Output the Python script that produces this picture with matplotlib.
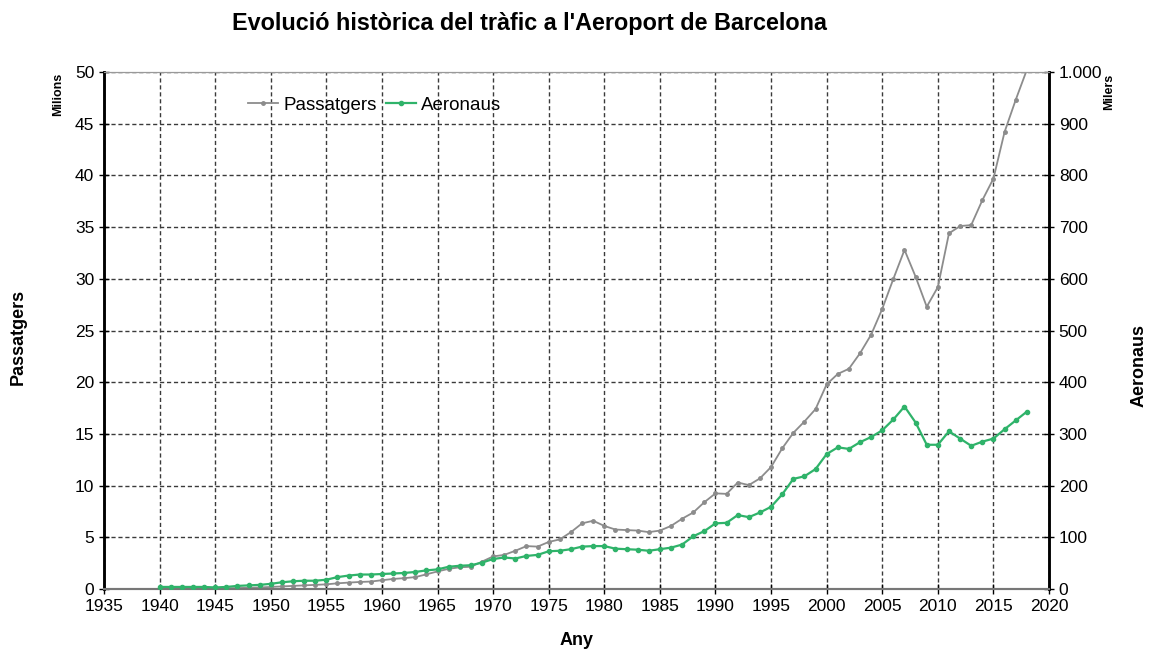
import matplotlib.pyplot as plt
import matplotlib.ticker as mticker
import numpy as np

plt.rcParams['font.family'] = ['Liberation Sans', 'DejaVu Sans']

# Dades llegides del gràfic
anys = list(range(1940, 2019))

# Passatgers (milions)
passatgers = [
    0.01, 0.01, 0.01, 0.01, 0.02, 0.03, 0.06, 0.09, 0.12, 0.15,
    0.20, 0.25, 0.30, 0.35, 0.40, 0.45, 0.55, 0.62, 0.68, 0.72,
    0.85, 0.97, 1.05, 1.15, 1.42, 1.70, 1.95, 2.10, 2.15, 2.65,
    3.15, 3.30, 3.70, 4.15, 4.10, 4.55, 4.80, 5.50, 6.35, 6.60,
    6.10, 5.75, 5.70, 5.65, 5.50, 5.65, 6.10, 6.80, 7.40, 8.40,
    9.25, 9.20, 10.3, 10.05, 10.7, 11.8, 13.6, 15.1, 16.2, 17.4,
    19.8, 20.8, 21.3, 22.8, 24.6, 27.1, 30.0, 32.8, 30.2, 27.3,
    29.2, 34.4, 35.1, 35.2, 37.6, 39.7, 44.2, 47.3, 50.2,
]

# Aeronaus (milers)
aeronaus = [
    4, 4, 4, 4, 4, 3, 4, 6, 7, 8,
    10, 13, 15, 16, 16, 18, 23, 26, 28, 28,
    29, 30, 31, 33, 36, 38, 43, 45, 46, 51,
    58, 61, 59, 64, 66, 73, 74, 77, 82, 83,
    83, 78, 77, 76, 74, 77, 80, 86, 102, 112,
    127, 128, 143, 139, 148, 159, 183, 213, 218, 232,
    261, 274, 271, 284, 294, 307, 328, 353, 322, 279,
    279, 305, 291, 277, 285, 291, 309, 326, 343,
]

fig = plt.figure(figsize=(11.49, 6.53), dpi=100)
ax = fig.add_axes([0.0905, 0.098, 0.8225, 0.7917])
ax2 = ax.twinx()

gris = '#8c8c8c'
verd = '#2fb36a'

l1, = ax.plot(anys, passatgers, color=gris, lw=1.3, marker='o', ms=2.5, label='Passatgers', zorder=3)
l2, = ax2.plot(anys, aeronaus, color=verd, lw=1.6, marker='o', ms=3, label='Aeronaus', zorder=3)

ax.set_xlim(1935, 2020)
ax.set_ylim(0, 50)
ax2.set_ylim(0, 1000)
ax.set_xticks(np.arange(1935, 2021, 5))
ax.set_yticks(np.arange(0, 51, 5))
ax2.set_yticks(np.arange(0, 1001, 100))
ax2.yaxis.set_major_formatter(mticker.FuncFormatter(lambda v, p: f'{int(v):,}'.replace(',', '.')))

ax.grid(True, color='#3a3a3a', linestyle=(0, (3, 2)), lw=1.0)
ax.set_axisbelow(True)

for a in (ax, ax2):
    a.tick_params(direction='inout', length=7, width=1, labelsize=12.5, colors='black')
    a.spines['left'].set_linewidth(1.8)
    a.spines['right'].set_linewidth(1.8)
    a.spines['top'].set_color('#999999')
    a.spines['bottom'].set_color('#777777')
    a.spines['bottom'].set_linewidth(1.5)
ax.tick_params(axis='x', pad=4)

fig.text(0.461, 0.964, "Evolució històrica del tràfic a l'Aeroport de Barcelona",
         ha='center', va='center', fontsize=16.8, fontweight='bold')
ax.set_xlabel('Any', fontsize=13, fontweight='bold', labelpad=13)
fig.text(0.016, 0.484, 'Passatgers', rotation=90, ha='center', va='center', fontsize=13, fontweight='bold')
fig.text(0.991, 0.44, 'Aeronaus', rotation=90, ha='center', va='center', fontsize=13, fontweight='bold')
fig.text(0.051, 0.855, 'Milions', rotation=90, ha='center', va='center', fontsize=9, fontweight='bold')
fig.text(0.965, 0.86, 'Milers', rotation=90, ha='center', va='center', fontsize=9, fontweight='bold')

ax2.legend(handles=[l1, l2], loc='upper left', bbox_to_anchor=(0.135, 0.985), ncol=2,
           frameon=False, fontsize=13.5, handlelength=1.6, handletextpad=0.27, columnspacing=0.5)

fig.savefig('out.png', dpi=100)
